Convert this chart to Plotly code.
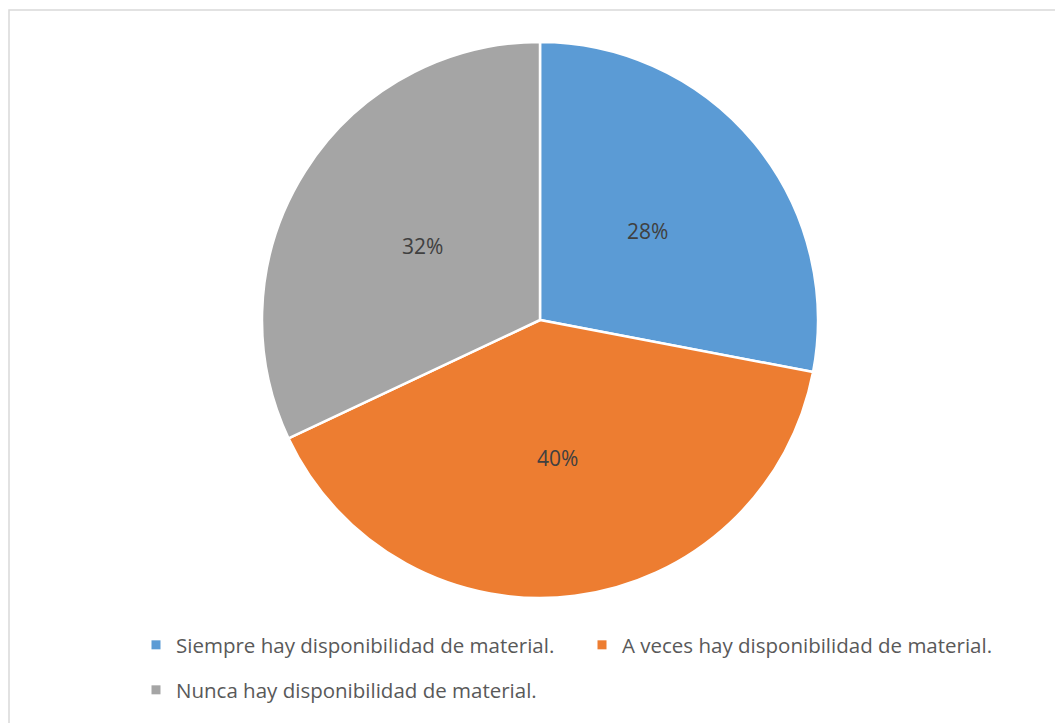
import math
import plotly.graph_objects as go

# Survey answers about material availability (percent of respondents)
categories = [
    "Siempre hay disponibilidad de material.",
    "A veces hay disponibilidad de material.",
    "Nunca hay disponibilidad de material.",
]
shares = [28, 40, 32]
colors = ["#5B9BD5", "#ED7D31", "#A5A5A5"]

W, H = 1055, 723
FONT = "'Open Sans', Calibri, Carlito, sans-serif"

# Pie placement (pixels): square domain, so radius is half its side
PIE_LEFT, PIE_RIGHT, PIE_TOP, PIE_BOTTOM = 262, 818, 42, 598
cx_px = (PIE_LEFT + PIE_RIGHT) / 2
cy_px = (PIE_TOP + PIE_BOTTOM) / 2
radius_px = (PIE_RIGHT - PIE_LEFT) / 2
LABEL_RADIUS = 0.5  # value labels sit halfway out along each slice's mid-angle

fig = go.Figure()

fig.add_trace(
    go.Pie(
        labels=categories,
        values=shares,
        sort=False,
        direction="clockwise",
        marker=dict(colors=colors, line=dict(color="white", width=2.5)),
        textinfo="none",
        hoverinfo="label+percent",
        showlegend=False,
        domain=dict(
            x=[PIE_LEFT / W, PIE_RIGHT / W],
            y=[1 - PIE_BOTTOM / H, 1 - PIE_TOP / H],
        ),
    )
)

# Percentage labels at the middle of each slice (clockwise from 12 o'clock)
total = sum(shares)
annotations = []
start = 0.0
for value in shares:
    mid = 2 * math.pi * (start + value / 2) / total
    start += value
    x_px = cx_px + LABEL_RADIUS * radius_px * math.sin(mid)
    y_px = cy_px - LABEL_RADIUS * radius_px * math.cos(mid)
    annotations.append(
        dict(
            x=x_px / W,
            y=1 - y_px / H,
            xref="paper",
            yref="paper",
            text=f"{value}%",
            showarrow=False,
            xanchor="center",
            yanchor="middle",
            font=dict(family=FONT, size=21, color="#404040"),
        )
    )

# Legend entries: two on the first row, one on the second
legend_rows = ["legend", "legend", "legend2"]
for name, color, row in zip(categories, colors, legend_rows):
    fig.add_trace(
        go.Scatter(
            x=[None],
            y=[None],
            mode="markers",
            name=name,
            marker=dict(symbol="square", size=9, color=color),
            legend=row,
            hoverinfo="skip",
        )
    )

legend_style = dict(
    orientation="h",
    xanchor="left",
    yanchor="middle",
    entrywidth=401,
    entrywidthmode="pixels",
    font=dict(family=FONT, size=20.5, color="#595959"),
    itemclick=False,
    itemdoubleclick=False,
    bgcolor="rgba(0,0,0,0)",
)

fig.update_layout(
    width=W,
    height=H,
    margin=dict(l=0, r=0, t=0, b=0),
    paper_bgcolor="white",
    plot_bgcolor="white",
    xaxis=dict(visible=False),
    yaxis=dict(visible=False),
    legend=dict(legend_style, x=136 / W, y=1 - 645 / H),
    legend2=dict(legend_style, x=136 / W, y=1 - 690 / H),
    annotations=annotations,
    shapes=[
        dict(
            type="rect",
            xref="paper",
            yref="paper",
            x0=9 / W,
            x1=1.05,
            y0=-0.05,
            y1=1 - 10 / H,
            line=dict(color="#D9D9D9", width=1.5),
            fillcolor="rgba(0,0,0,0)",
            layer="below",
        )
    ],
)

fig.write_html(
    "out.html",
    config={"responsive": False, "displayModeBar": False},
    post_script="document.body.style.margin='0';document.body.style.overflow='hidden';",
)
